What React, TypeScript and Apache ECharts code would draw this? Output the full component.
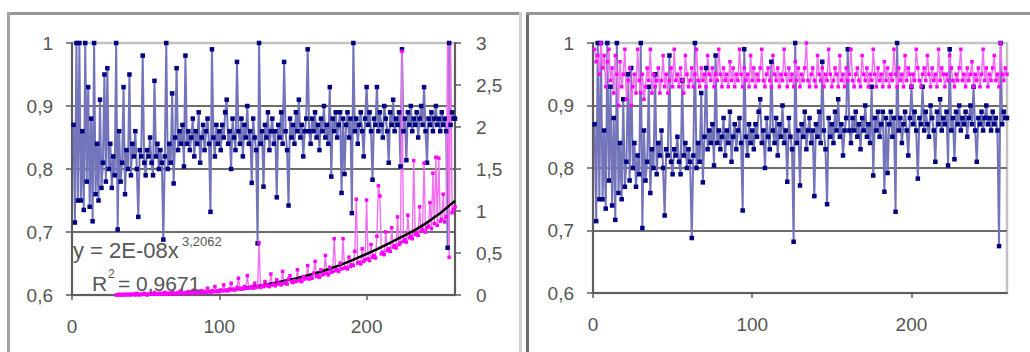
import React, { useEffect, useRef } from "react";
import * as echarts from "echarts";

// Blue series (efficiency), x = 1..260, shared by both panels
const blueValues: number[] = [
  0.87, 0.715, 1.0, 0.75, 1.0, 0.75, 0.86, 0.735, 1.0, 0.78,
  0.93, 0.74, 0.88, 0.717, 1.0, 0.76, 0.84, 0.75, 0.91, 0.77,
  0.81, 0.95, 0.78, 0.96, 0.8, 0.84, 0.77, 0.82, 0.79, 1.0,
  0.704, 0.86, 0.78, 0.81, 0.93, 0.76, 0.83, 0.8, 0.95, 0.79,
  0.84, 0.82, 0.86, 0.8, 0.724, 0.83, 0.82, 0.98, 0.81, 0.79,
  0.83, 0.82, 0.85, 0.81, 0.79, 0.94, 0.82, 0.84, 0.8, 0.83,
  0.81, 0.688, 0.82, 1.0, 0.8, 0.84, 0.81, 0.92, 0.777, 0.85,
  0.96, 0.83, 0.86, 0.84, 0.87, 0.804, 0.98, 0.84, 0.86, 0.83,
  0.85, 0.88, 0.82, 0.86, 0.84, 0.89, 0.81, 0.85, 0.87, 0.83,
  0.86, 0.88, 0.84, 0.732, 0.99, 0.85, 0.82, 0.87, 0.84, 0.86,
  0.83, 0.87, 0.85, 0.89, 0.91, 0.84, 0.86, 0.8, 0.88, 0.85,
  0.83, 0.97, 0.86, 0.84, 0.88, 0.82, 0.87, 0.85, 0.9, 0.84,
  0.86, 0.778, 0.88, 0.85, 0.83, 0.682, 1.0, 0.84, 0.86, 0.772,
  0.87, 0.85, 0.89, 0.83, 0.86, 0.88, 0.84, 0.86, 0.755, 0.87,
  0.85, 0.89, 0.84, 0.97, 0.86, 0.83, 0.742, 0.88, 0.85, 0.87,
  0.84, 0.89, 0.86, 0.91, 0.85, 0.87, 0.82, 0.86, 0.88, 0.99,
  0.86, 0.84, 0.88, 0.86, 0.89, 0.85, 0.87, 0.83, 0.88, 0.86,
  0.9, 0.85, 0.87, 0.84, 0.93, 0.788, 0.88, 0.86, 0.89, 0.85,
  0.87, 0.89, 0.762, 0.88, 0.792, 0.87, 0.89, 0.85, 0.88, 0.73,
  1.0, 0.86, 0.88, 0.84, 0.87, 0.89, 0.86, 0.82, 0.88, 0.93,
  0.87, 0.89, 0.86, 0.783, 0.88, 0.87, 0.93, 0.86, 0.89, 0.87,
  0.85, 0.9, 0.88, 0.86, 0.81, 0.89, 0.87, 0.91, 0.86, 0.88,
  0.87, 0.89, 0.804, 0.99, 0.86, 0.88, 0.814, 0.89, 0.87, 0.9,
  0.86, 0.88, 0.87, 0.89, 0.85, 0.88, 0.9, 0.87, 0.93, 0.86,
  0.81, 0.88, 0.87, 0.89, 0.86, 0.88, 0.9, 0.87, 0.88, 0.86,
  0.89, 0.87, 0.88, 0.86, 0.675, 1.0, 0.87, 0.89, 0.88, 0.88,
];

// Pink series of the left panel (right axis 0..3), starting at x = 30
const pinkLeftStart = 30;
const pinkLeftValues: number[] = [
  0.0, 0.0, 0.01, 0.0, 0.0, 0.01, 0.0, 0.01, 0.0, 0.01,
  0.0, 0.01, 0.01, 0.0, 0.02, 0.01, 0.0, 0.01, 0.01, 0.02,
  0.01, 0.0, 0.01, 0.02, 0.01, 0.01, 0.03, 0.01, 0.01, 0.02,
  0.01, 0.02, 0.01, 0.03, 0.01, 0.02, 0.02, 0.01, 0.04, 0.02,
  0.02, 0.01, 0.03, 0.02, 0.05, 0.02, 0.02, 0.03, 0.02, 0.04,
  0.03, 0.02, 0.03, 0.06, 0.03, 0.02, 0.04, 0.03, 0.05, 0.03,
  0.04, 0.03, 0.08, 0.04, 0.03, 0.05, 0.04, 0.1, 0.04, 0.05,
  0.04, 0.06, 0.05, 0.12, 0.05, 0.06, 0.05, 0.07, 0.14, 0.06,
  0.07, 0.06, 0.09, 0.2, 0.07, 0.08, 0.07, 0.1, 0.08, 0.23,
  0.08, 0.09, 0.1, 0.08, 0.14, 0.09, 0.1, 0.62, 0.09, 0.11,
  0.1, 0.16, 0.11, 0.12, 0.1, 0.25, 0.12, 0.13, 0.11, 0.18,
  0.13, 0.14, 0.12, 0.28, 0.14, 0.15, 0.13, 0.19, 0.23, 0.16,
  0.15, 0.17, 0.16, 0.3, 0.17, 0.18, 0.16, 0.22, 0.19, 0.2,
  0.35, 0.19, 0.21, 0.2, 0.26, 0.4, 0.22, 0.23, 0.21, 0.3,
  0.24, 0.25, 0.47, 0.26, 0.24, 0.33, 0.27, 0.28, 0.67, 0.29,
  0.3, 0.28, 0.38, 0.31, 0.67, 0.32, 0.33, 0.31, 0.45, 0.34,
  0.36, 0.35, 0.52, 1.14, 0.38, 0.39, 0.37, 0.55, 0.4, 0.42,
  1.13, 0.43, 0.41, 0.6, 0.45, 0.47, 0.44, 0.7, 1.3, 1.18,
  0.49, 0.51, 0.48, 0.75, 0.53, 0.55, 0.52, 0.8, 0.57, 0.59,
  0.56, 0.93, 0.6, 0.62, 2.9, 0.64, 0.66, 0.63, 0.95, 0.68,
  0.7, 0.67, 1.6, 0.72, 0.74, 0.71, 1.05, 0.76, 0.78, 1.57,
  0.75, 0.8, 0.82, 1.1, 0.79, 1.45, 0.85, 1.64, 0.83, 1.63,
  0.88, 0.9, 1.2, 0.87, 0.93, 3.2, 0.45, 3.2, 0.98, 1.02,
  1.05,
];

// Power trendline points: y = 2E-08x^3,2062
const trendX: number[] = [30, 55, 80, 100, 127, 150, 173, 195, 218, 240, 260];
const trendY: number[] = [0.0, 0.01, 0.02, 0.05, 0.11, 0.19, 0.3, 0.45, 0.64, 0.85, 1.12];

// Pink series of the right panel (left axis 0.6..1), x = 1..260
const pinkRightValues: number[] = [
  0.99, 0.97, 0.98, 0.95, 1.0, 0.96, 0.98, 0.93, 0.97, 0.99,
  0.94, 0.96, 0.92, 0.98, 0.95, 0.9, 0.97, 0.93, 0.95, 0.99,
  0.91, 0.94, 0.96, 0.9, 0.93, 0.95, 0.92, 0.99, 0.94, 0.92,
  0.95, 0.91, 0.93, 0.96, 0.94, 0.99, 0.92, 0.95, 0.93, 0.94,
  0.96, 0.92, 0.94, 0.98, 0.93, 0.95, 0.92, 0.94, 0.96, 0.93,
  0.99, 0.94, 0.95, 0.93, 0.96, 0.94, 0.92, 0.98, 0.95, 0.93,
  0.94, 0.96, 0.93, 0.95, 0.99, 0.94, 0.93, 0.96, 0.94, 0.95,
  0.93, 0.98, 0.95, 0.94, 0.96, 0.93, 0.95, 0.94, 0.99, 0.95,
  0.93, 0.96, 0.94, 0.95, 0.93, 0.97, 0.94, 0.96, 0.93, 0.95,
  0.94, 0.99, 0.95, 0.93, 0.96, 0.94, 0.95, 0.93, 0.98, 0.94,
  0.96, 0.93, 0.95, 0.94, 0.96, 0.99, 0.94, 0.93, 0.95, 0.96,
  0.94, 0.93, 0.98, 0.95, 0.94, 0.96, 0.93, 0.95, 0.94, 0.99,
  0.95, 0.93, 0.96, 0.94, 0.95, 0.93, 0.97, 0.94, 0.96, 0.93,
  0.95, 0.94, 0.96, 1.0, 0.94, 0.93, 0.95, 0.96, 0.94, 0.93,
  0.98, 0.95, 0.94, 0.96, 0.93, 0.95, 0.94, 0.99, 0.95, 0.93,
  0.94, 0.96, 0.95, 0.93, 0.98, 0.94, 0.95, 0.93, 0.96, 0.94,
  0.95, 0.99, 0.94, 0.93, 0.95, 0.96, 0.94, 0.93, 0.98, 0.95,
  0.94, 0.96, 0.93, 0.95, 0.94, 0.99, 0.95, 0.93, 0.96, 0.94,
  0.95, 0.93, 0.97, 0.94, 0.96, 0.93, 0.95, 0.94, 0.99, 0.95,
  0.93, 0.96, 0.94, 0.95, 0.93, 0.98, 0.94, 0.96, 0.95, 0.93,
  0.95, 0.94, 0.99, 0.96, 0.94, 0.93, 0.95, 0.96, 0.94, 0.98,
  0.95, 0.93, 0.96, 0.94, 0.95, 0.93, 0.99, 0.94, 0.96, 0.95,
  0.93, 0.95, 0.94, 0.98, 0.96, 0.94, 0.93, 0.95, 0.94, 0.96,
  0.99, 0.94, 0.95, 0.93, 0.96, 0.94, 0.95, 0.97, 0.93, 0.95,
  0.94, 0.96, 0.93, 0.95, 0.99, 0.94, 0.96, 0.93, 0.95, 0.94,
  0.96, 0.98, 0.94, 0.95, 0.93, 1.0, 0.95, 0.94, 0.96, 0.95,
];

const xTickValues: number[] = [0, 100, 200];
const xMax = 260;

const FONT = '"Liberation Sans", Arial, sans-serif';
const TEXT = "#555555";
const AXIS = "#5e5e5e";
const GRIDLINE = "#6c6c6c";
const BORDER = "#c2c2c2";
const NAVY = "#000080";
const BLUE_LINE = "#7474bb";
const MAGENTA = "#ff00ff";
const PINK_LINE = "#f070f0";

const comma = (v: number) => String(Math.round(v * 100) / 100).replace(".", ",");

function App() {
  const ref = useRef<HTMLDivElement>(null);

  useEffect(() => {
    if (!ref.current) return;
    const chart = echarts.init(ref.current, null, { renderer: "svg" });

    const blueData = blueValues.map((v, i) => [i + 1, v]);
    const pinkLeftData = pinkLeftValues.map((v, i) => [pinkLeftStart + i, v]);
    const trendData = trendX.map((x, i) => [x, trendY[i]]);
    const pinkRightData = pinkRightValues.map((v, i) => [i + 1, v]);

    const xAxisBase = (gridIndex: number) => ({
      type: "value" as const,
      gridIndex,
      min: 0,
      max: xMax,
      axisLine: { show: true, onZero: false, lineStyle: { color: AXIS, width: 2 } },
      axisTick: { show: true, customValues: xTickValues, length: 5, lineStyle: { color: AXIS, width: 1.5 } },
      axisLabel: {
        customValues: xTickValues,
        color: TEXT,
        fontFamily: FONT,
        fontSize: 19,
        margin: 22,
      },
      splitLine: { show: false },
    });

    const yLeft = (gridIndex: number) => ({
      type: "value" as const,
      gridIndex,
      position: "left" as const,
      min: 0.6,
      max: 1,
      interval: 0.1,
      axisLine: { show: true, lineStyle: { color: AXIS, width: 2 } },
      axisTick: { show: true, length: 6, lineStyle: { color: AXIS, width: 1.5 } },
      axisLabel: {
        color: TEXT,
        fontFamily: FONT,
        fontSize: 19,
        margin: 19,
        formatter: (v: number) => comma(v),
      },
      splitLine: {
        show: true,
        showMinLine: false,
        showMaxLine: false,
        lineStyle: { color: GRIDLINE, width: 2 },
      },
    });

    const blueSeries = (xi: number, yi: number) => ({
      type: "line" as const,
      xAxisIndex: xi,
      yAxisIndex: yi,
      data: blueData,
      symbol: "rect",
      symbolSize: 4.5,
      showAllSymbol: true,
      itemStyle: { color: NAVY },
      lineStyle: { color: BLUE_LINE, width: 2 },
      clip: true,
      silent: true,
    });

    chart.setOption({
      animation: false,
      backgroundColor: "#ffffff",
      grid: [
        {
          left: 72,
          top: 43,
          width: 383,
          height: 252,
          show: true,
          borderColor: BORDER,
          borderWidth: 2.5,
          backgroundColor: "transparent",
        },
        {
          left: 593,
          top: 43,
          width: 414,
          height: 250,
          show: true,
          borderColor: BORDER,
          borderWidth: 2.5,
          backgroundColor: "transparent",
        },
      ],
      xAxis: [xAxisBase(0), xAxisBase(1)],
      yAxis: [
        yLeft(0),
        {
          type: "value",
          gridIndex: 0,
          position: "right",
          min: 0,
          max: 3,
          interval: 0.5,
          axisLine: { show: true, lineStyle: { color: AXIS, width: 2 } },
          axisTick: { show: true, length: 6, lineStyle: { color: AXIS, width: 1.5 } },
          axisLabel: {
            color: TEXT,
            fontFamily: FONT,
            fontSize: 19,
            margin: 21,
            formatter: (v: number) => comma(v),
          },
          splitLine: { show: false },
        },
        yLeft(1),
      ],
      series: [
        blueSeries(0, 0),
        {
          type: "line",
          xAxisIndex: 0,
          yAxisIndex: 1,
          data: pinkLeftData,
          symbol: "rect",
          symbolSize: 3.5,
          showAllSymbol: true,
          itemStyle: { color: MAGENTA },
          lineStyle: { color: PINK_LINE, width: 1.4 },
          clip: true,
          silent: true,
        },
        {
          type: "line",
          xAxisIndex: 0,
          yAxisIndex: 1,
          data: trendData,
          smooth: true,
          symbol: "none",
          lineStyle: { color: "#000000", width: 2.5 },
          clip: true,
          silent: true,
        },
        blueSeries(1, 2),
        {
          type: "line",
          xAxisIndex: 1,
          yAxisIndex: 2,
          data: pinkRightData,
          symbol: "rect",
          symbolSize: 3.5,
          showAllSymbol: true,
          itemStyle: { color: MAGENTA },
          lineStyle: { color: PINK_LINE, width: 1.5 },
          clip: true,
          silent: true,
        },
      ],
      graphic: [
        // panel frames
        { type: "rect", shape: { x: 7, y: 12, width: 513, height: 3 }, style: { fill: "#959595" }, silent: true },
        { type: "rect", shape: { x: 7, y: 12, width: 3, height: 340 }, style: { fill: "#a2a2a2" }, silent: true },
        { type: "rect", shape: { x: 519, y: 12, width: 3, height: 340 }, style: { fill: "#cfcfcf" }, silent: true },
        { type: "rect", shape: { x: 526, y: 12, width: 3, height: 340 }, style: { fill: "#6a6a6a" }, silent: true },
        { type: "rect", shape: { x: 526, y: 12, width: 504, height: 3 }, style: { fill: "#959595" }, silent: true },
        // trendline equation
        {
          type: "text",
          x: 73,
          y: 250,
          z: 100,
          style: { text: "y = 2E-08x", fontFamily: FONT, fontSize: 22, fill: TEXT, verticalAlign: "middle" },
          silent: true,
        },
        {
          type: "text",
          x: 182,
          y: 241,
          z: 100,
          style: { text: "3,2062", fontFamily: FONT, fontSize: 13, fill: TEXT, verticalAlign: "middle" },
          silent: true,
        },
        {
          type: "text",
          x: 92,
          y: 283,
          z: 100,
          style: { text: "R", fontFamily: FONT, fontSize: 21, fill: TEXT, verticalAlign: "middle" },
          silent: true,
        },
        {
          type: "text",
          x: 108,
          y: 274,
          z: 100,
          style: { text: "2", fontFamily: FONT, fontSize: 12, fill: TEXT, verticalAlign: "middle" },
          silent: true,
        },
        {
          type: "text",
          x: 118,
          y: 283,
          z: 100,
          style: { text: "= 0,9671", fontFamily: FONT, fontSize: 21, fill: TEXT, verticalAlign: "middle" },
          silent: true,
        },
      ],
    });

    return () => chart.dispose();
  }, []);

  return (
    <div
      ref={ref}
      style={{ position: "fixed", left: 0, top: 0, width: 1030, height: 352, background: "#ffffff" }}
    />
  );
}

export default App;
